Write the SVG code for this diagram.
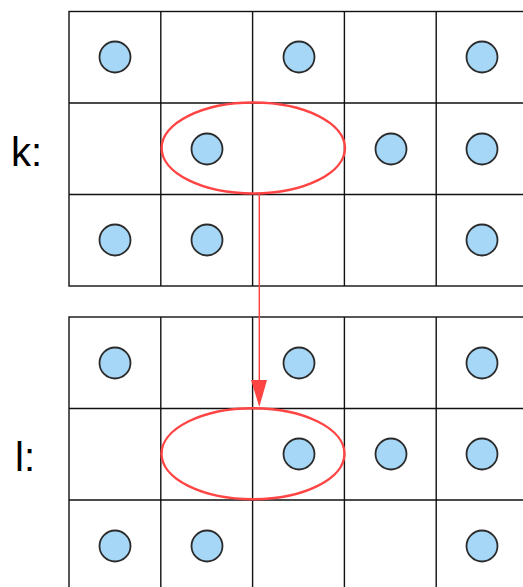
<svg xmlns="http://www.w3.org/2000/svg" width="523" height="587" viewBox="0 0 523 587">
<defs>
<style>
.grid{fill:none;stroke:#111;stroke-width:1.4}
.dot{fill:#a6d7f7;stroke:#2b2b2b;stroke-width:1.8}
.sel{fill:none;stroke:#f44;stroke-width:2.4}
.lbl{font-family:"Liberation Sans",Arial,sans-serif;font-size:40px;fill:#000}
</style>
</defs>
<rect width="523" height="587" fill="#fff"/>
<g id="grid-k">
<rect class="grid" x="69" y="11.5" width="459" height="274.5"/>
<path class="grid" d="M160.8 11.5V286M252.6 11.5V286M344.4 11.5V286M436.2 11.5V286M69 103H528M69 194.5H528"/>
</g>
<g id="grid-l">
<rect class="grid" x="69" y="317" width="459" height="274.5"/>
<path class="grid" d="M160.8 317V591.5M252.6 317V591.5M344.4 317V591.5M436.2 317V591.5M69 408.5H528M69 500H528"/>
</g>
<g id="dots-k">
<circle class="dot" cx="115" cy="57" r="15.5"/>
<circle class="dot" cx="299" cy="57" r="15.5"/>
<circle class="dot" cx="482" cy="57" r="15.5"/>
<circle class="dot" cx="207" cy="149" r="15.5"/>
<circle class="dot" cx="391" cy="149" r="15.5"/>
<circle class="dot" cx="482" cy="149" r="15.5"/>
<circle class="dot" cx="115" cy="240" r="15.5"/>
<circle class="dot" cx="207" cy="240" r="15.5"/>
<circle class="dot" cx="482" cy="240" r="15.5"/>
</g>
<g id="dots-l">
<circle class="dot" cx="115" cy="363" r="15.5"/>
<circle class="dot" cx="299" cy="363" r="15.5"/>
<circle class="dot" cx="482" cy="363" r="15.5"/>
<circle class="dot" cx="299" cy="454" r="15.5"/>
<circle class="dot" cx="391" cy="454" r="15.5"/>
<circle class="dot" cx="482" cy="454" r="15.5"/>
<circle class="dot" cx="115" cy="546" r="15.5"/>
<circle class="dot" cx="207" cy="546" r="15.5"/>
<circle class="dot" cx="482" cy="546" r="15.5"/>
</g>
<g id="sel-k"><ellipse class="sel" cx="253.3" cy="148" rx="91.7" ry="45.5"/></g>
<g id="sel-l"><ellipse class="sel" cx="253" cy="453.7" rx="91.5" ry="45.5"/></g>
<g id="connectors">
<line x1="259.3" y1="194" x2="259.3" y2="382" stroke="#f44" stroke-width="1.5"/>
<polygon points="251,380 267,380 259.3,407" fill="#f44"/>
</g>
<g id="labels">
<text class="lbl" x="11" y="166">k:</text>
<text class="lbl" x="15" y="471">l:</text>
</g>
</svg>
